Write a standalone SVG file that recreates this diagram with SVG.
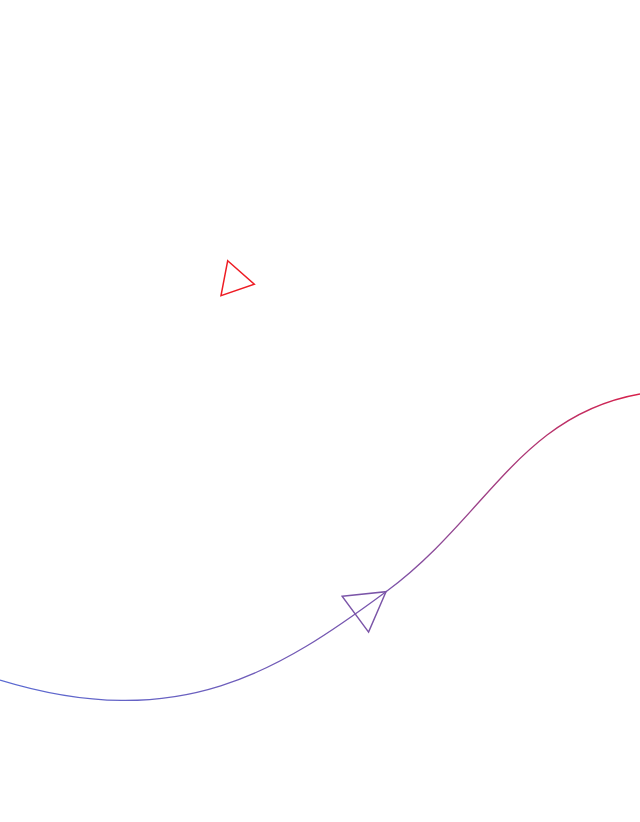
<svg xmlns="http://www.w3.org/2000/svg" width="640" height="822" viewBox="0 0 640 822">
  <style>
    .curve { fill: none; stroke: url(#curveGrad); stroke-width: 1.3; }
    .tri { fill: none; stroke-width: 1.5; stroke-linejoin: miter; }
  </style>
  <defs>
    <linearGradient id="curveGrad" gradientUnits="userSpaceOnUse" x1="0" y1="0" x2="640" y2="0">
      <stop offset="0" stop-color="#5a6ad2"/>
      <stop offset="0.6" stop-color="#7a55ac"/>
      <stop offset="1" stop-color="#d8204a"/>
    </linearGradient>
    <marker id="openArrow" markerUnits="userSpaceOnUse" orient="auto" refX="0" refY="0" markerWidth="100" markerHeight="100" overflow="visible">
      <path d="M-38,-22.2 L0,0 L-38,22.2 Z" fill="none" stroke="#7b55a8" stroke-width="1.5"/>
    </marker>
  </defs>
  <rect width="640" height="822" fill="#ffffff"/>
  <g id="red-triangle">
    <polygon class="tri" points="227.7,260.7 254.3,284.3 221,295.7" stroke="#ee1c24"/>
  </g>
  <g id="connectors">
    <path class="curve" marker-mid="url(#openArrow)" d="M0,680 C180,735 280,670 386,591.7 C486,518.2 520,415 640,394"/>
  </g>
</svg>
